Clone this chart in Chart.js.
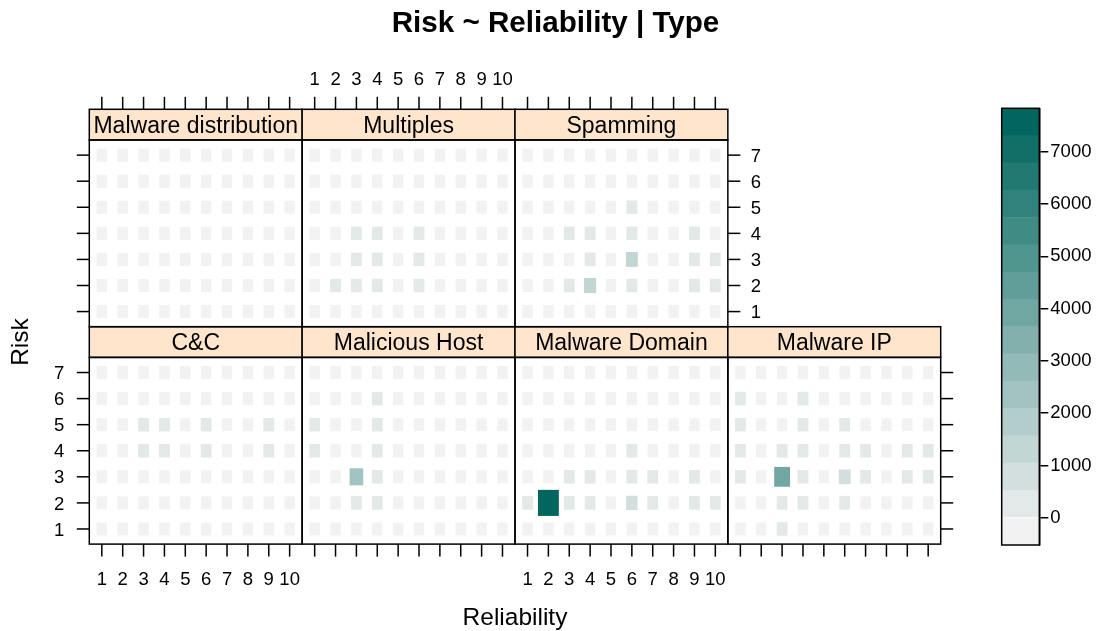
<!DOCTYPE html>
<html>
<head>
<meta charset="utf-8">
<title>Risk ~ Reliability | Type</title>
<script src="https://cdn.jsdelivr.net/npm/chart.js@4/dist/chart.umd.min.js"></script>
<style>
  html, body { margin: 0; padding: 0; background: #ffffff; }
  #wrap { position: relative; width: 1110px; height: 631px; overflow: hidden; }
  #wrap canvas { position: absolute; left: 0; top: 0; }
</style>
</head>
<body>
<div id="wrap"></div>
<script>
// ---- data -------------------------------------------------------------
const reliability = [1, 2, 3, 4, 5, 6, 7, 8, 9, 10];
const risk = [1, 2, 3, 4, 5, 6, 7];
const reliabilityTicks = ['1', '2', '3', '4', '5', '6', '7', '8', '9', '10'];
const riskTicks = ['1', '2', '3', '4', '5', '6', '7'];
const keyTicks = [0, 1000, 2000, 3000, 4000, 5000, 6000, 7000];
const types = ['C&C', 'Malicious Host', 'Malware Domain', 'Malware IP',
               'Malware distribution', 'Multiples', 'Spamming'];

// counts: one row per Risk level (Risk 1 first), columns = Reliability 1..10
const ccCounts = [
  [0, 0, 0, 0, 0, 0, 0, 0, 0, 0],
  [0, 0, 0, 0, 0, 0, 0, 0, 0, 0],
  [0, 0, 0, 0, 0, 0, 0, 0, 0, 0],
  [0, 0, 300, 300, 0, 300, 0, 0, 300, 0],
  [0, 0, 300, 300, 0, 300, 0, 0, 300, 0],
  [0, 0, 0, 0, 0, 0, 0, 0, 0, 0],
  [0, 0, 0, 0, 0, 0, 0, 0, 0, 0]
];
const maliciousHostCounts = [
  [0, 0, 0, 0, 0, 0, 0, 0, 0, 0],
  [0, 0, 300, 300, 0, 0, 0, 0, 0, 0],
  [0, 0, 2400, 300, 0, 0, 0, 0, 0, 0],
  [300, 0, 0, 300, 0, 0, 0, 0, 0, 0],
  [300, 0, 0, 300, 0, 0, 0, 0, 0, 0],
  [0, 0, 0, 300, 0, 0, 0, 0, 0, 0],
  [0, 0, 0, 0, 0, 0, 0, 0, 0, 0]
];
const malwareDomainCounts = [
  [0, 0, 0, 0, 0, 0, 0, 0, 0, 0],
  [300, 7800, 300, 300, 0, 800, 300, 0, 300, 300],
  [0, 0, 300, 300, 0, 300, 300, 0, 300, 0],
  [0, 0, 0, 0, 0, 300, 0, 0, 0, 0],
  [0, 0, 0, 0, 0, 0, 0, 0, 0, 0],
  [0, 0, 0, 0, 0, 0, 0, 0, 0, 0],
  [0, 0, 0, 0, 0, 0, 0, 0, 0, 0]
];
const malwareIpCounts = [
  [0, 0, 300, 0, 0, 0, 0, 0, 0, 0],
  [0, 0, 300, 300, 0, 300, 0, 0, 0, 0],
  [300, 0, 4050, 300, 0, 1000, 300, 0, 300, 300],
  [300, 0, 300, 300, 0, 300, 300, 0, 300, 300],
  [300, 0, 0, 300, 0, 300, 0, 0, 0, 0],
  [300, 0, 0, 300, 0, 0, 0, 0, 0, 0],
  [0, 0, 0, 0, 0, 0, 0, 0, 0, 0]
];
const malwareDistributionCounts = [
  [0, 0, 0, 0, 0, 0, 0, 0, 0, 0],
  [0, 0, 0, 0, 0, 0, 0, 0, 0, 0],
  [0, 0, 0, 0, 0, 0, 0, 0, 0, 0],
  [0, 0, 0, 0, 0, 0, 0, 0, 0, 0],
  [0, 0, 0, 0, 0, 0, 0, 0, 0, 0],
  [0, 0, 0, 0, 0, 0, 0, 0, 0, 0],
  [0, 0, 0, 0, 0, 0, 0, 0, 0, 0]
];
const multiplesCounts = [
  [0, 0, 0, 0, 0, 0, 0, 0, 0, 0],
  [0, 250, 250, 250, 0, 250, 0, 0, 0, 0],
  [0, 0, 250, 250, 0, 250, 0, 0, 0, 0],
  [0, 0, 250, 250, 0, 250, 0, 0, 0, 0],
  [0, 0, 0, 0, 0, 0, 0, 0, 0, 0],
  [0, 0, 0, 0, 0, 0, 0, 0, 0, 0],
  [0, 0, 0, 0, 0, 0, 0, 0, 0, 0]
];
const spammingCounts = [
  [0, 0, 0, 0, 0, 0, 0, 0, 0, 0],
  [0, 0, 300, 1250, 0, 300, 0, 0, 300, 300],
  [0, 0, 0, 300, 0, 1100, 0, 0, 300, 300],
  [0, 0, 300, 300, 0, 300, 0, 0, 300, 0],
  [0, 0, 0, 0, 0, 300, 0, 0, 0, 0],
  [0, 0, 0, 0, 0, 0, 0, 0, 0, 0],
  [0, 0, 0, 0, 0, 0, 0, 0, 0, 0]
];

// ---- colour key --------------------------------------------------------
const KEY_MIN = -522, KEY_STEP = 522, KEY_BANDS = 16;
const LOW_RGB = [242, 242, 242], HIGH_RGB = [1, 102, 94];
const keyColours = [];
for (let k = 0; k < KEY_BANDS; k++) {
  const t = k / (KEY_BANDS - 1);
  const c = LOW_RGB.map((lo, i) => Math.round(lo + (HIGH_RGB[i] - lo) * t));
  keyColours.push(`rgb(${c[0]},${c[1]},${c[2]})`);
}
function colourFor(v) {
  let k = Math.ceil((v - KEY_MIN) / KEY_STEP) - 1;
  k = Math.max(0, Math.min(KEY_BANDS - 1, k));
  return keyColours[k];
}
const allCounts = [ccCounts, maliciousHostCounts, malwareDomainCounts, malwareIpCounts,
  malwareDistributionCounts, multiplesCounts, spammingCounts];
const zMax = Math.max(...allCounts.flat(2));

// ---- page geometry -----------------------------------------------------
const W = 1110, H = 631;
const FONT = '"Liberation Sans", Arial, Helvetica, sans-serif';
const GRID_LEFT = 89.3, PANEL_W = 212.85;
const STRIP_H = 30.7, PANEL_H = 186.7;
const ROW_TOP = [109.3, 109.3 + STRIP_H + PANEL_H];   // strip top of upper / lower row
const TICK_LEN = 12.5;
const TICK_FONT = '18.5px ' + FONT;

// lattice style alternating axes for each panel
const panels = [
  { name: types[0], counts: ccCounts, col: 0, row: 1, left: 'labels', bottom: 'labels' },
  { name: types[1], counts: maliciousHostCounts, col: 1, row: 1, bottom: 'ticks' },
  { name: types[2], counts: malwareDomainCounts, col: 2, row: 1, bottom: 'labels' },
  { name: types[3], counts: malwareIpCounts, col: 3, row: 1, bottom: 'ticks', right: 'ticks' },
  { name: types[4], counts: malwareDistributionCounts, col: 0, row: 0, top: 'ticks', left: 'ticks' },
  { name: types[5], counts: multiplesCounts, col: 1, row: 0, top: 'labels' },
  { name: types[6], counts: spammingCounts, col: 2, row: 0, top: 'ticks', right: 'labels' }
];

const wrap = document.getElementById('wrap');
function newCanvas() {
  const c = document.createElement('canvas');
  c.width = W; c.height = H;
  c.style.width = W + 'px'; c.style.height = H + 'px';
  wrap.appendChild(c);
  return c;
}

// cells: centred on the scatter points, sized by count
const levelCells = {
  id: 'levelCells',
  afterDatasetsDraw(chart) {
    const { ctx, scales: { x, y } } = chart;
    const dx = Math.abs(x.getPixelForValue(1) - x.getPixelForValue(0));
    const dy = Math.abs(y.getPixelForValue(1) - y.getPixelForValue(0));
    const raw = chart.data.datasets[0].data;
    ctx.save();
    chart.getDatasetMeta(0).data.forEach((pt, i) => {
      const v = raw[i].v;
      const f = 0.5 + 0.5 * v / zMax;
      ctx.fillStyle = colourFor(v);
      ctx.fillRect(pt.x - dx * f / 2, pt.y - dy * f / 2, dx * f, dy * f);
    });
    ctx.restore();
  }
};

// strip, frame and axes of one panel
function panelFrame(p) {
  return {
    id: 'panelFrame',
    afterDraw(chart) {
      const { ctx, chartArea: a, scales: { x, y } } = chart;
      const stripTop = a.top - STRIP_H;
      ctx.save();
      ctx.strokeStyle = '#000';
      ctx.fillStyle = '#000';
      ctx.lineWidth = 1.5;
      ctx.font = TICK_FONT;
      ctx.textBaseline = 'alphabetic';
      const line = (x1, y1, x2, y2) => { ctx.beginPath(); ctx.moveTo(x1, y1); ctx.lineTo(x2, y2); ctx.stroke(); };

      if (p.top) {
        reliability.forEach((r, i) => {
          const px = x.getPixelForValue(r);
          line(px, stripTop, px, stripTop - TICK_LEN);
          if (p.top === 'labels') { ctx.textAlign = 'center'; ctx.fillText(reliabilityTicks[i], px, stripTop - 24.7); }
        });
      }
      if (p.bottom) {
        reliability.forEach((r, i) => {
          const px = x.getPixelForValue(r);
          line(px, a.bottom, px, a.bottom + TICK_LEN);
          if (p.bottom === 'labels') { ctx.textAlign = 'center'; ctx.fillText(reliabilityTicks[i], px, a.bottom + 40.6); }
        });
      }
      if (p.left) {
        risk.forEach((r, i) => {
          const py = y.getPixelForValue(r);
          line(a.left, py, a.left - TICK_LEN, py);
          if (p.left === 'labels') { ctx.textAlign = 'right'; ctx.fillText(riskTicks[i], a.left - 25, py + 6.6); }
        });
      }
      if (p.right) {
        risk.forEach((r, i) => {
          const py = y.getPixelForValue(r);
          line(a.right, py, a.right + TICK_LEN, py);
          if (p.right === 'labels') { ctx.textAlign = 'left'; ctx.fillText(riskTicks[i], a.right + 23, py + 6.6); }
        });
      }

      // strip
      ctx.fillStyle = '#ffe5cc';
      ctx.fillRect(a.left, stripTop, a.right - a.left, STRIP_H);
      ctx.strokeRect(a.left, stripTop, a.right - a.left, STRIP_H);
      ctx.fillStyle = '#000';
      ctx.font = '23px ' + FONT;
      ctx.textAlign = 'center';
      ctx.fillText(p.name, (a.left + a.right) / 2, stripTop + STRIP_H / 2 + 8);

      // panel frame
      ctx.strokeRect(a.left, a.top, a.right - a.left, a.bottom - a.top);
      ctx.restore();
    }
  };
}

panels.forEach(p => {
  const left = GRID_LEFT + p.col * PANEL_W;
  const top = ROW_TOP[p.row] + STRIP_H;
  const points = [];
  p.counts.forEach((rowVals, ri) => rowVals.forEach((v, ci) => {
    points.push({ x: reliability[ci], y: risk[ri], v: v });
  }));
  new Chart(newCanvas(), {
    type: 'scatter',
    data: { datasets: [{ label: p.name, data: points, pointRadius: 0, pointHoverRadius: 0 }] },
    options: {
      responsive: false, animation: false, devicePixelRatio: 1, events: [],
      layout: { padding: { left: left, top: top, right: W - (left + PANEL_W), bottom: H - (top + PANEL_H) } },
      scales: {
        x: { type: 'linear', min: 0.4, max: 10.6, display: false },
        y: { type: 'linear', min: 0.42, max: 7.58, display: false }
      },
      plugins: { legend: { display: false }, tooltip: { enabled: false }, title: { display: false } }
    },
    plugins: [levelCells, panelFrame(p)]
  });
});

// ---- colour key chart + page labels -------------------------------------
const keyBands = keyColours.map((col, k) => ({
  data: [[KEY_MIN + k * KEY_STEP, KEY_MIN + (k + 1) * KEY_STEP]],
  backgroundColor: col, borderColor: col, borderWidth: 0,
  barPercentage: 1, categoryPercentage: 1, grouped: false
}));

const keyFrame = {
  id: 'keyFrame',
  afterDraw(chart) {
    const { ctx, chartArea: a } = chart;
    ctx.save();
    ctx.strokeStyle = '#000';
    ctx.lineWidth = 1.5;
    ctx.strokeRect(a.left, a.top, a.right - a.left, a.bottom - a.top);

    ctx.fillStyle = '#000';
    ctx.textBaseline = 'alphabetic';
    ctx.textAlign = 'center';
    ctx.font = 'bold 29.6px ' + FONT;
    ctx.fillText('Risk ~ Reliability | Type', 555.5, 31.5);
    ctx.font = '24.5px ' + FONT;
    ctx.fillText('Reliability', GRID_LEFT + 2 * PANEL_W, 625);
    ctx.translate(28, 342);
    ctx.rotate(-Math.PI / 2);
    ctx.fillText('Risk', 0, 0);
    ctx.restore();
  }
};

const KEY_LEFT = 1001.7, KEY_RIGHT = 1039.3, KEY_TOP = 108.3, KEY_BOTTOM = 545, KEY_AXIS_W = 60;
new Chart(newCanvas(), {
  type: 'bar',
  data: { labels: [''], datasets: keyBands },
  options: {
    responsive: false, animation: false, devicePixelRatio: 1, events: [],
    layout: { padding: { left: KEY_LEFT, top: KEY_TOP, right: W - KEY_RIGHT - KEY_AXIS_W, bottom: H - KEY_BOTTOM } },
    scales: {
      x: { display: false },
      y: {
        position: 'right', min: KEY_MIN, max: KEY_MIN + KEY_BANDS * KEY_STEP,
        afterBuildTicks(scale) { scale.ticks = keyTicks.map(v => ({ value: v })); },
        afterFit(scale) { scale.width = KEY_AXIS_W; },
        grid: { drawOnChartArea: false, drawTicks: true, tickLength: 9, color: '#000', lineWidth: 1.5 },
        border: { display: true, color: '#000', width: 1.5 },
        ticks: { color: '#000', padding: 2, font: { family: FONT, size: 18.5 }, callback: v => String(v) }
      }
    },
    plugins: { legend: { display: false }, tooltip: { enabled: false }, title: { display: false } }
  },
  plugins: [keyFrame]
});
</script>
</body>
</html>
